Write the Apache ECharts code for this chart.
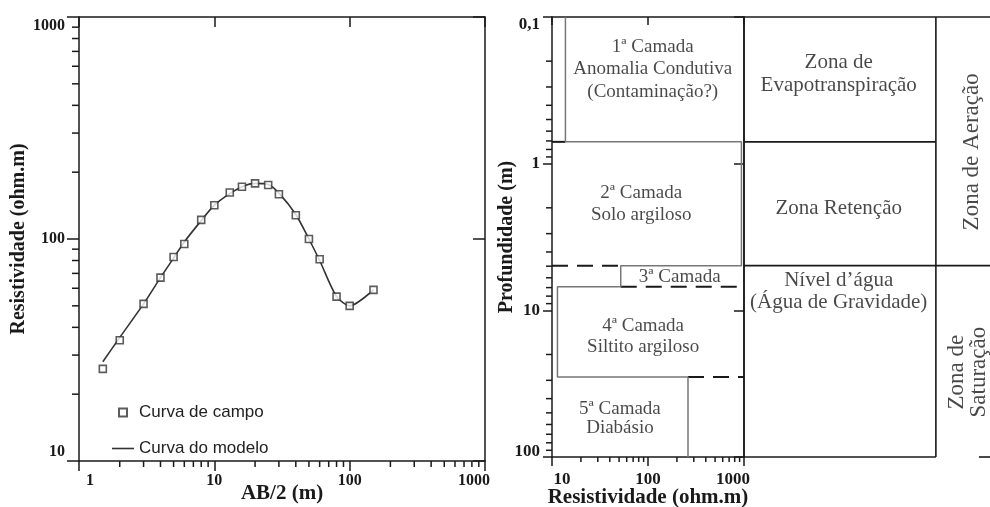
<!DOCTYPE html>
<html>
<head>
<meta charset="utf-8">
<script src="https://cdn.jsdelivr.net/npm/echarts@6/dist/echarts.min.js"></script>
<style>
  html, body { margin: 0; padding: 0; background: #fff; }
  #chart { width: 990px; height: 507px; }
</style>
</head>
<body>
<div id="chart"></div>
<script>
// curva de sondagem (AB/2 x resistividade aparente)
const abHalf = [1.5, 2, 3, 4, 5, 6, 8, 10, 13, 16, 20, 25, 30, 40, 50, 60, 80, 100, 150];
const rhoField = [26, 35, 51, 67, 83, 95, 122, 142, 162, 172, 178, 175, 159, 128, 100, 81, 55, 50, 59];
const rhoModel = [28, 36, 51, 67, 82, 97, 121, 142, 160, 172, 178, 176, 161, 129, 100, 80, 55, 50, 59];

// modelo de camadas: resistividade e profundidade da base de cada camada
const layerRho = [13.8, 940, 52, 11.4, 261];
const layerBase = [0.71, 4.96, 6.9, 28.5, 100];
const layerNames = [
  '1ª Camada\nAnomalia Condutiva\n(Contaminação?)',
  '2ª Camada\nSolo argiloso',
  '3ª Camada',
  '4ª Camada\nSiltito argiloso',
  '5ª Camada\nDiabásio'
];

// zonas hidrogeológicas (profundidade das divisões)
const zoneBase = [0.71, 4.96];
const zoneNames = ['Zona de\nEvapotranspiração', 'Zona Retenção', 'Nível d’água\n(Água de Gravidade)'];
const bigZoneNames = ['Zona de Aeração', 'Zona de\nSaturação'];

// marcas secundárias dos eixos
const minorLeftX = [2, 3, 4, 5, 6, 7, 8, 9, 20, 30, 40, 50, 60, 70, 80, 90, 200, 300, 400, 500, 600, 700, 800, 900];
const minorLeftY = [20, 30, 40, 50, 60, 70, 80, 90, 200, 300, 400, 500, 600, 700, 800, 900];
const minorRightX = [20, 30, 40, 50, 60, 70, 80, 90, 200, 300, 400, 500, 600, 700, 800, 900];
const minorRightY = [0.2, 0.3, 0.4, 0.5, 0.6, 0.7, 0.8, 0.9, 2, 3, 4, 5, 6, 7, 8, 9, 20, 30, 40, 50, 60, 70, 80, 90];

const INK = '#1a1a1a';
const SERIF = 'Liberation Serif';

// escada do modelo
const stepLine = [];
let layerTop = 0.1;
layerRho.forEach((r, i) => {
  stepLine.push([r, layerTop]);
  stepLine.push([r, layerBase[i]]);
  layerTop = layerBase[i];
});

// trechos tracejados: o resto de cada interface fora da linha do modelo
const dashed = [];
for (let i = 0; i < layerRho.length - 1; i++) {
  const lo = Math.min(layerRho[i], layerRho[i + 1]);
  const hi = Math.max(layerRho[i], layerRho[i + 1]);
  if (lo / 10 > 1.2) dashed.push([10, layerBase[i], lo, layerBase[i]]);
  if (1000 / hi > 1.2) dashed.push([hi, layerBase[i], 1000, layerBase[i]]);
}

const colSplit = 0.78;
const tableLines = [
  [0, 0.1, 1, 0.1],
  [0, 0.1, 0, 100],
  [colSplit, 0.1, colSplit, 100],
  [0, zoneBase[0], colSplit, zoneBase[0]],
  [0, zoneBase[1], 1, zoneBase[1]],
  [0, 100, colSplit, 100],
  [0.955, 100, 1, 100]
];

function tickRender(dir, len) {
  return function (params, api) {
    const p = api.coord([api.value(0), api.value(1)]);
    const dx = dir === 'x' ? 0 : -len;
    const dy = dir === 'x' ? len : 0;
    return {
      type: 'line',
      shape: { x1: p[0], y1: p[1], x2: p[0] + dx, y2: p[1] + dy },
      style: { stroke: INK, lineWidth: 1.5 }
    };
  };
}

function segRender(color, width, dash) {
  return function (params, api) {
    const a = api.coord([api.value(0), api.value(1)]);
    const b = api.coord([api.value(2), api.value(3)]);
    return {
      type: 'line',
      shape: { x1: a[0], y1: a[1], x2: b[0], y2: b[1] },
      style: { stroke: color, lineWidth: width, lineDash: dash }
    };
  };
}

const lblFont = { fontFamily: SERIF, fontWeight: 'bold', color: INK };
const endRich = {
  t: Object.assign({ fontSize: 16, padding: [18, 0, 0, 0] }, lblFont),
  b: Object.assign({ fontSize: 16, padding: [0, 0, 18, 0] }, lblFont),
  l: Object.assign({ fontSize: 16, padding: [0, 0, 0, 22] }, lblFont),
  r: Object.assign({ fontSize: 16, padding: [0, 22, 0, 0] }, lblFont),
  t2: Object.assign({ fontSize: 17, padding: [16, 0, 0, 0] }, lblFont),
  b2: Object.assign({ fontSize: 17, padding: [0, 0, 10, 0] }, lblFont),
  l2: Object.assign({ fontSize: 17, padding: [0, 0, 0, 20] }, lblFont),
  r2: Object.assign({ fontSize: 17, padding: [0, 22, 0, 0] }, lblFont)
};

function axisLine() {
  return { show: true, lineStyle: { color: INK, width: 1.5 } };
}
function majorTick(inside, len) {
  return { show: true, inside: inside, length: len, lineStyle: { color: INK, width: 1.5 } };
}
function nameStyle(size) {
  return { fontFamily: SERIF, fontWeight: 'bold', fontSize: size, color: INK };
}

const option = {
  animation: false,
  backgroundColor: '#fff',
  grid: [
    { left: 79, top: 17, width: 406, height: 444, outerBoundsMode: 'none' },
    { left: 552, top: 17, width: 192, height: 440, outerBoundsMode: 'none' },
    { left: 744, top: 17, width: 246, height: 440, outerBoundsMode: 'none' }
  ],
  xAxis: [
    {
      gridIndex: 0, type: 'log', logBase: 10, min: 1, max: 1000,
      axisLine: axisLine(), axisTick: majorTick(false, 10), splitLine: { show: false },
      axisLabel: {
        margin: 12, fontSize: 16, fontFamily: SERIF, fontWeight: 'bold', color: INK, rich: endRich,
        formatter: v => v === 1 ? '{l|1}' : v === 1000 ? '{r|1000}' : String(v)
      },
      name: 'AB/2 (m)', nameLocation: 'middle', nameGap: 22, nameMoveOverlap: false,
      nameTextStyle: nameStyle(21)
    },
    {
      gridIndex: 0, type: 'log', logBase: 10, min: 1, max: 1000, position: 'top',
      axisLine: axisLine(), axisTick: majorTick(true, 10), axisLabel: { show: false }, splitLine: { show: false }
    },
    {
      gridIndex: 1, type: 'log', logBase: 10, min: 10, max: 1000,
      axisLine: axisLine(), axisTick: majorTick(false, 9), splitLine: { show: false },
      axisLabel: {
        margin: 14, fontSize: 17, fontFamily: SERIF, fontWeight: 'bold', color: INK, rich: endRich,
        formatter: v => v === 10 ? '{l2|10}' : v === 1000 ? '{r2|1000}' : String(v)
      },
      name: 'Resistividade (ohm.m)', nameLocation: 'middle', nameGap: 30, nameMoveOverlap: false,
      nameTextStyle: nameStyle(21)
    },
    {
      gridIndex: 1, type: 'log', logBase: 10, min: 10, max: 1000, position: 'top',
      axisLine: axisLine(), axisTick: majorTick(true, 8), axisLabel: { show: false }, splitLine: { show: false }
    },
    {
      gridIndex: 2, type: 'value', min: 0, max: 1, show: false
    }
  ],
  yAxis: [
    {
      gridIndex: 0, type: 'log', logBase: 10, min: 10, max: 1000,
      axisLine: axisLine(), axisTick: majorTick(false, 12), splitLine: { show: false },
      axisLabel: {
        margin: 14, fontSize: 16, fontFamily: SERIF, fontWeight: 'bold', color: INK, rich: endRich,
        formatter: v => v === 1000 ? '{t|1000}' : v === 10 ? '{b|10}' : String(v)
      },
      name: 'Resistividade (ohm.m)', nameLocation: 'middle', nameGap: 50, nameMoveOverlap: false,
      nameTextStyle: nameStyle(20)
    },
    {
      gridIndex: 0, type: 'log', logBase: 10, min: 10, max: 1000, position: 'right',
      axisLine: axisLine(), axisTick: majorTick(true, 12), axisLabel: { show: false }, splitLine: { show: false }
    },
    {
      gridIndex: 1, type: 'log', logBase: 10, min: 0.1, max: 100, inverse: true,
      axisLine: axisLine(), axisTick: majorTick(false, 9), splitLine: { show: false },
      axisLabel: {
        margin: 12, fontSize: 17, fontFamily: SERIF, fontWeight: 'bold', color: INK, rich: endRich,
        formatter: v => v < 0.5 ? '{t2|0,1}' : v === 100 ? '{b2|100}' : String(v)
      },
      name: 'Profundidade (m)', nameLocation: 'middle', nameGap: 35, nameMoveOverlap: false,
      nameTextStyle: nameStyle(20)
    },
    {
      gridIndex: 1, type: 'log', logBase: 10, min: 0.1, max: 100, inverse: true, position: 'right',
      axisLine: axisLine(), axisTick: majorTick(true, 10), axisLabel: { show: false }, splitLine: { show: false }
    },
    {
      gridIndex: 2, type: 'log', logBase: 10, min: 0.1, max: 100, inverse: true, show: false
    }
  ],
  legend: {
    left: 107, top: 399, orient: 'vertical',
    itemWidth: 22, itemHeight: 8, itemGap: 19, symbolKeepAspect: true,
    data: [
      { name: 'Curva de campo', icon: 'path://M0,0H8V8H0Z',
        itemStyle: { color: '#fff', borderColor: '#333', borderWidth: 2 } },
      { name: 'Curva do modelo', icon: 'path://M0,0H22V1.6H0Z',
        itemStyle: { color: '#333', borderWidth: 0 } }
    ],
    textStyle: { fontFamily: 'Liberation Sans', fontSize: 17, color: '#222' }
  },
  series: [
    {
      name: 'Curva do modelo', type: 'line', xAxisIndex: 0, yAxisIndex: 0,
      data: abHalf.map((x, i) => [x, rhoModel[i]]),
      symbol: 'none', smooth: 0.25,
      lineStyle: { color: '#333', width: 1.6 }, itemStyle: { color: '#333' }
    },
    {
      name: 'Curva de campo', type: 'scatter', xAxisIndex: 0, yAxisIndex: 0, z: 5,
      data: abHalf.map((x, i) => [x, rhoField[i]]),
      symbol: 'rect', symbolSize: 7,
      itemStyle: { color: '#fff', borderColor: '#333', borderWidth: 1.6 }
    },
    {
      type: 'custom', xAxisIndex: 0, yAxisIndex: 0, silent: true,
      data: minorLeftX.map(v => [v, 10]), renderItem: tickRender('x', 6)
    },
    {
      type: 'custom', xAxisIndex: 0, yAxisIndex: 0, silent: true,
      data: minorLeftY.map(v => [1, v]), renderItem: tickRender('y', 7)
    },
    {
      type: 'custom', xAxisIndex: 2, yAxisIndex: 2, silent: true,
      data: minorRightX.map(v => [v, 100]), renderItem: tickRender('x', 5)
    },
    {
      type: 'custom', xAxisIndex: 2, yAxisIndex: 2, silent: true,
      data: minorRightY.map(v => [10, v]), renderItem: tickRender('y', 6)
    },
    {
      type: 'line', xAxisIndex: 2, yAxisIndex: 2, data: stepLine,
      symbol: 'none', lineStyle: { color: '#777', width: 1.5 }
    },
    {
      type: 'custom', xAxisIndex: 2, yAxisIndex: 2, silent: true,
      data: dashed, renderItem: segRender(INK, 2, [16, 9])
    },
    {
      type: 'scatter', xAxisIndex: 2, yAxisIndex: 2, silent: true,
      symbolSize: 1, itemStyle: { color: 'transparent' },
      label: { show: true, position: 'inside', formatter: p => p.name,
        fontFamily: SERIF, fontSize: 19, color: INK, lineHeight: 22 },
      data: [
        { name: layerNames[0], value: [112, 0.227], label: { lineHeight: 22.5 } },
        { name: layerNames[1], value: [85, 1.88] },
        { name: layerNames[2], value: [214, 5.9] },
        { name: layerNames[3], value: [89, 15.1], label: { lineHeight: 21 } },
        { name: layerNames[4], value: [51, 55], label: { lineHeight: 19 } }
      ]
    },
    {
      type: 'custom', xAxisIndex: 4, yAxisIndex: 4, silent: true,
      data: tableLines, renderItem: segRender(INK, 1.6, null)
    },
    {
      type: 'scatter', xAxisIndex: 4, yAxisIndex: 4, silent: true,
      symbolSize: 1, itemStyle: { color: 'transparent' },
      label: { show: true, position: 'inside', formatter: p => p.name,
        fontFamily: SERIF, fontSize: 21, color: INK, lineHeight: 23 },
      data: [
        { name: zoneNames[0], value: [0.385, 0.2457] },
        { name: zoneNames[1], value: [0.385, 2.03] },
        { name: zoneNames[2], value: [0.385, 7.46], label: { lineHeight: 22 } },
        { name: bigZoneNames[0], value: [0.926, 0.831], label: { rotate: 90, fontSize: 23 } },
        { name: bigZoneNames[1], value: [0.91, 26.4], label: { rotate: 90, fontSize: 23, lineHeight: 22 } }
      ]
    }
  ]
};

const chart = echarts.init(document.getElementById('chart'));
chart.setOption(option);
</script>
</body>
</html>
